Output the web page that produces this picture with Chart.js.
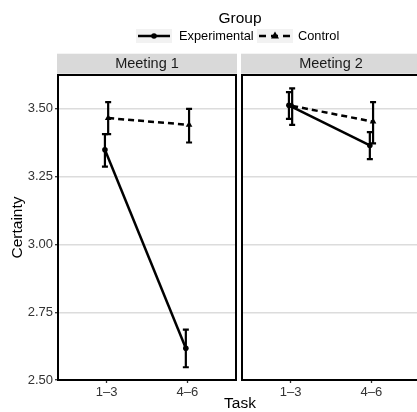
<!DOCTYPE html>
<html>
<head>
<meta charset="utf-8">
<script src="https://cdn.jsdelivr.net/npm/chart.js@4.4.1/dist/chart.umd.min.js"></script>
<style>
  html, body { margin: 0; padding: 0; background: #fff; }
  #wrap { position: relative; width: 417px; height: 412px; overflow: hidden; }
  #c1 { position: absolute; left: 0; top: 0; }
  #c2 { position: absolute; left: 238px; top: 0; }
</style>
</head>
<body>
<div id="wrap">
  <canvas id="c1" width="417" height="412"></canvas>
  <canvas id="c2" width="200" height="412"></canvas>
</div>
<script>
var TASKS = ['1–3', '4–6'];
var PANELS = ['Meeting 1', 'Meeting 2'];
var GROUPS = ['Experimental', 'Control'];
var Y_TICKS = [2.50, 2.75, 3.00, 3.25, 3.50];

// mean certainty and CI bounds, one value per task
var M1_EXP = [3.349, 2.617];
var M1_EXP_LO = [3.287, 2.547];
var M1_EXP_HI = [3.407, 2.686];
var M1_CTL = [3.466, 3.441];
var M1_CTL_LO = [3.407, 3.376];
var M1_CTL_HI = [3.525, 3.500];

var M2_EXP = [3.513, 3.365];
var M2_EXP_LO = [3.463, 3.315];
var M2_EXP_HI = [3.562, 3.414];
var M2_CTL = [3.511, 3.453];
var M2_CTL_LO = [3.441, 3.373];
var M2_CTL_HI = [3.576, 3.525];

var FONT = 'Arial, "Liberation Sans", Helvetica, sans-serif';
var DODGE = 0.02;

function pts(vals, shift) {
  return vals.map(function (v, i) { return { x: i + 1 + shift, y: v }; });
}

// error bars from the lo/hi arrays kept on each dataset
var errorBars = {
  id: 'errorBars',
  afterDatasetsDraw: function (chart) {
    var ctx = chart.ctx, xs = chart.scales.x, ys = chart.scales.y;
    ctx.save();
    ctx.strokeStyle = '#000';
    ctx.lineWidth = 2.2;
    chart.data.datasets.forEach(function (ds) {
      ds.data.forEach(function (p, i) {
        var x = xs.getPixelForValue(p.x);
        var y1 = ys.getPixelForValue(ds.lo[i]);
        var y2 = ys.getPixelForValue(ds.hi[i]);
        ctx.beginPath();
        ctx.moveTo(x, y1); ctx.lineTo(x, y2);
        ctx.moveTo(x - 3, y1); ctx.lineTo(x + 3, y1);
        ctx.moveTo(x - 3, y2); ctx.lineTo(x + 3, y2);
        ctx.stroke();
      });
    });
    ctx.restore();
  }
};

// panel border + facet strip
var facetFrame = {
  id: 'facetFrame',
  afterDraw: function (chart) {
    var ctx = chart.ctx, a = chart.chartArea;
    ctx.save();
    ctx.fillStyle = '#d9d9d9';
    ctx.fillRect(a.left - 1, a.top - 21.3, a.right - a.left + 2, 20);
    ctx.fillStyle = '#1a1a1a';
    ctx.font = '14.5px ' + FONT;
    ctx.textAlign = 'center';
    ctx.textBaseline = 'middle';
    ctx.fillText(chart.options.plugins.facetFrame.label, (a.left + a.right) / 2, a.top - 11);
    ctx.strokeStyle = '#000';
    ctx.lineWidth = 2;
    ctx.strokeRect(a.left, a.top, a.right - a.left, a.bottom - a.top);
    ctx.restore();
  }
};

function drawKey(ctx, x, dashed, marker) {
  ctx.fillStyle = '#f2f2f2';
  ctx.fillRect(x, 29, 36, 14);
  ctx.strokeStyle = '#000';
  ctx.fillStyle = '#000';
  ctx.lineWidth = 2.5;
  ctx.setLineDash(dashed ? [7, 5] : []);
  ctx.beginPath();
  ctx.moveTo(x + 2, 36); ctx.lineTo(x + 34, 36);
  ctx.stroke();
  ctx.setLineDash([]);
  ctx.beginPath();
  if (marker === 'circle') {
    ctx.arc(x + 18, 36, 2.8, 0, Math.PI * 2);
  } else {
    ctx.moveTo(x + 18, 31.5); ctx.lineTo(x + 22, 38.5); ctx.lineTo(x + 14, 38.5);
    ctx.closePath();
  }
  ctx.fill();
}

// shared legend and axis titles, drawn on the first canvas
var sharedText = {
  id: 'sharedText',
  afterDraw: function (chart) {
    var ctx = chart.ctx;
    ctx.save();
    ctx.fillStyle = '#000';
    ctx.textBaseline = 'middle';
    ctx.textAlign = 'center';
    ctx.font = '15.5px ' + FONT;
    ctx.fillText('Group', 240, 19);
    ctx.fillText('Task', 240, 404);
    drawKey(ctx, 136, false, 'circle');
    drawKey(ctx, 257, true, 'triangle');
    ctx.fillStyle = '#000';
    ctx.textAlign = 'left';
    ctx.font = '12.8px ' + FONT;
    ctx.fillText(GROUPS[0], 179, 36.5);
    ctx.fillText(GROUPS[1], 298, 36.5);
    ctx.translate(18, 227.5);
    ctx.rotate(-Math.PI / 2);
    ctx.textAlign = 'center';
    ctx.font = '15.5px ' + FONT;
    ctx.fillText('Certainty', 0, 0);
    ctx.restore();
  }
};

function makePanel(canvas, idx, exp, expLo, expHi, ctl, ctlLo, ctlHi) {
  var first = idx === 0;
  var plugins = [errorBars, facetFrame];
  if (first) plugins.push(sharedText);
  return new Chart(canvas.getContext('2d'), {
    type: 'line',
    data: {
      datasets: [
        {
          label: GROUPS[0],
          data: pts(exp, -DODGE), lo: expLo, hi: expHi,
          borderColor: '#000', backgroundColor: '#000', borderWidth: 2.5,
          pointStyle: 'circle', pointRadius: 2.8, pointBorderWidth: 0,
          tension: 0
        },
        {
          label: GROUPS[1],
          data: pts(ctl, DODGE), lo: ctlLo, hi: ctlHi,
          borderColor: '#000', backgroundColor: '#000', borderWidth: 2.5,
          borderDash: [6, 4],
          pointStyle: 'triangle', pointRadius: 3.8, pointBorderWidth: 0,
          tension: 0
        }
      ]
    },
    options: {
      responsive: false,
      animation: false,
      layout: {
        padding: first ? { left: 0, top: 75, right: 181, bottom: 0 }
                       : { left: 4, top: 75, right: 18, bottom: 0 }
      },
      plugins: {
        legend: { display: false },
        tooltip: { enabled: false },
        facetFrame: { label: PANELS[idx] }
      },
      scales: {
        x: {
          type: 'linear', min: 0.4, max: 2.6,
          afterBuildTicks: function (s) {
            s.ticks = TASKS.map(function (t, i) { return { value: i + 1 }; });
          },
          afterFit: function (s) { s.height = 32; },
          ticks: {
            callback: function (v) { return TASKS[Math.round(v) - 1]; },
            font: { size: 13, family: FONT }, color: '#333',
            padding: 1.5, maxRotation: 0, autoSkip: false
          },
          grid: { drawOnChartArea: false, drawTicks: true, tickLength: 3, tickColor: '#333', tickWidth: 1.3 },
          border: { display: false }
        },
        y: {
          min: 2.5, max: 3.625,
          afterBuildTicks: function (s) {
            s.ticks = Y_TICKS.map(function (v) { return { value: v }; });
          },
          afterFit: function (s) { s.width = first ? 58 : 0; },
          ticks: {
            display: first,
            callback: function (v) { return v.toFixed(2); },
            font: { size: 13, family: FONT }, color: '#333', padding: 2
          },
          grid: { color: '#dcdcdc', lineWidth: 1.4, drawTicks: first, tickLength: 3, tickColor: '#333', tickWidth: 1.3 },
          border: { display: false }
        }
      }
    },
    plugins: plugins
  });
}

makePanel(document.getElementById('c1'), 0, M1_EXP, M1_EXP_LO, M1_EXP_HI, M1_CTL, M1_CTL_LO, M1_CTL_HI);
makePanel(document.getElementById('c2'), 1, M2_EXP, M2_EXP_LO, M2_EXP_HI, M2_CTL, M2_CTL_LO, M2_CTL_HI);
</script>
</body>
</html>
